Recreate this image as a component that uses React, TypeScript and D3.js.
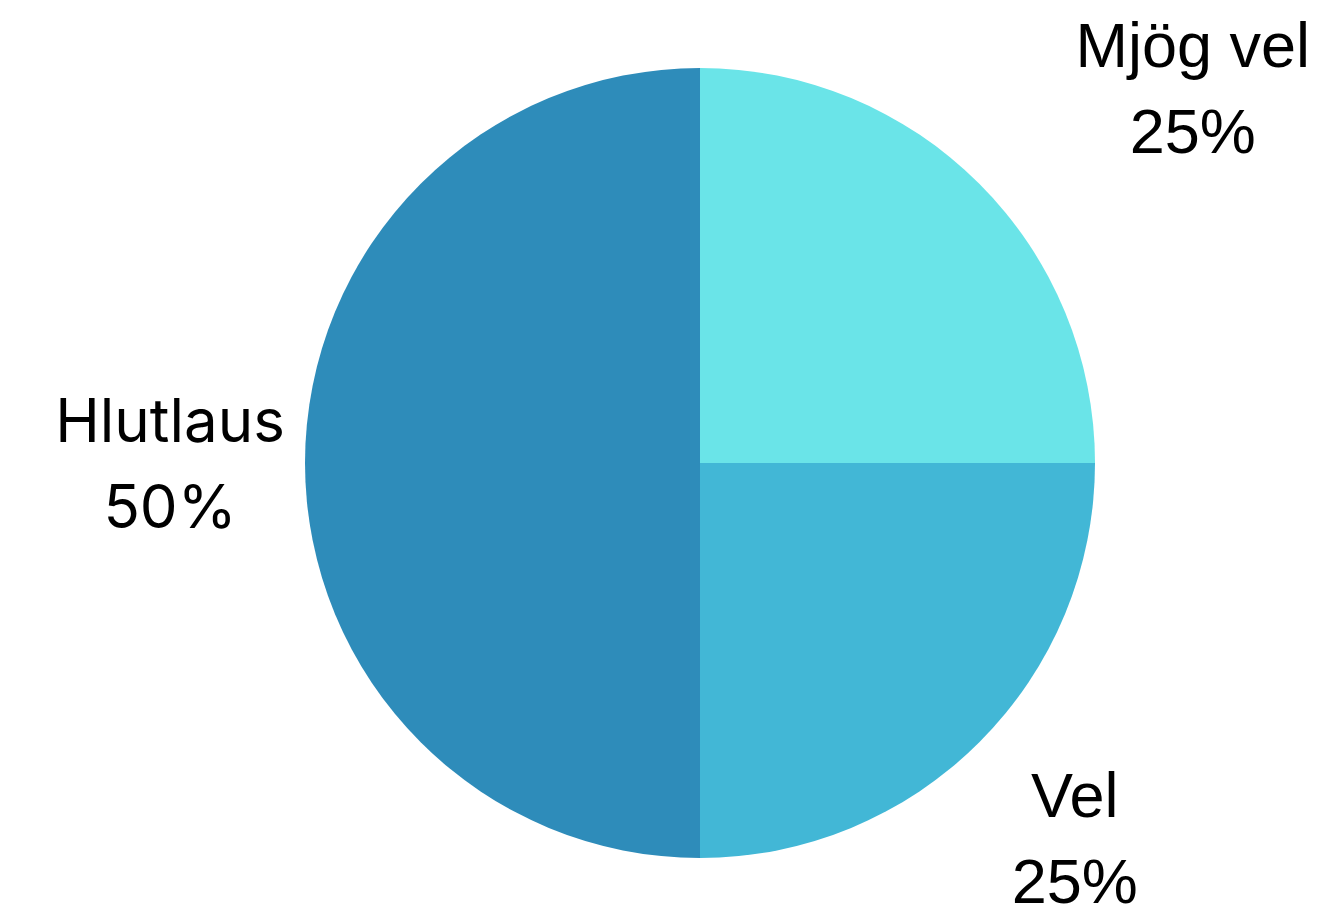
import React, { useEffect } from 'react';
import * as d3 from 'd3';

const categories = ['Mjög vel', 'Vel', 'Hlutlaus'];
const values = [25, 25, 50];
const percentLabels = ['25%', '25%', '50%'];
const colors = ['#6ae4e8', '#42b7d6', '#2e8cba'];

const width = 1332;
const height = 908;
const cx = 700;
const cy = 463;
const radius = 395;
const labelRadius = 530;
// the top label was pushed outward in the original
const labelShiftX = [118, 0, 0];
const labelFonts = ['Liberation Sans', 'Liberation Sans', 'Inter'];

const App = () => {
  useEffect(() => {
    document.body.style.margin = '0';
  }, []);

  const data = categories.map((name, i) => ({ name, value: values[i], pct: percentLabels[i], i }));
  const pie = d3
    .pie<typeof data[number]>()
    .sort(null)
    .value((d) => d.value);
  const arcs = pie(data);
  const arc = d3.arc<d3.PieArcDatum<typeof data[number]>>().innerRadius(0).outerRadius(radius);
  const labelArc = d3
    .arc<d3.PieArcDatum<typeof data[number]>>()
    .innerRadius(labelRadius)
    .outerRadius(labelRadius);

  return (
    <svg width={width} height={height} style={{ display: 'block', background: '#fff' }}>
      <g transform={`translate(${cx},${cy})`}>
        {arcs.map((a) => (
          <path key={a.data.name} d={arc(a) as string} fill={colors[a.data.i]} />
        ))}
        {arcs.map((a) => {
          const [lx, ly] = labelArc.centroid(a);
          const x = lx + labelShiftX[a.data.i];
          return (
            <text
              key={'l' + a.data.name}
              x={x}
              y={ly}
              textAnchor='middle'
              fontSize={a.data.i === 2 ? 60 : 63}
              fontFamily={labelFonts[a.data.i]}
              fill='#000'
            >
              <tspan x={x} y={ly - 21}>
                {a.data.name}
              </tspan>
              <tspan x={x} y={ly + 65}>
                {a.data.pct}
              </tspan>
            </text>
          );
        })}
      </g>
    </svg>
  );
};

export default App;
